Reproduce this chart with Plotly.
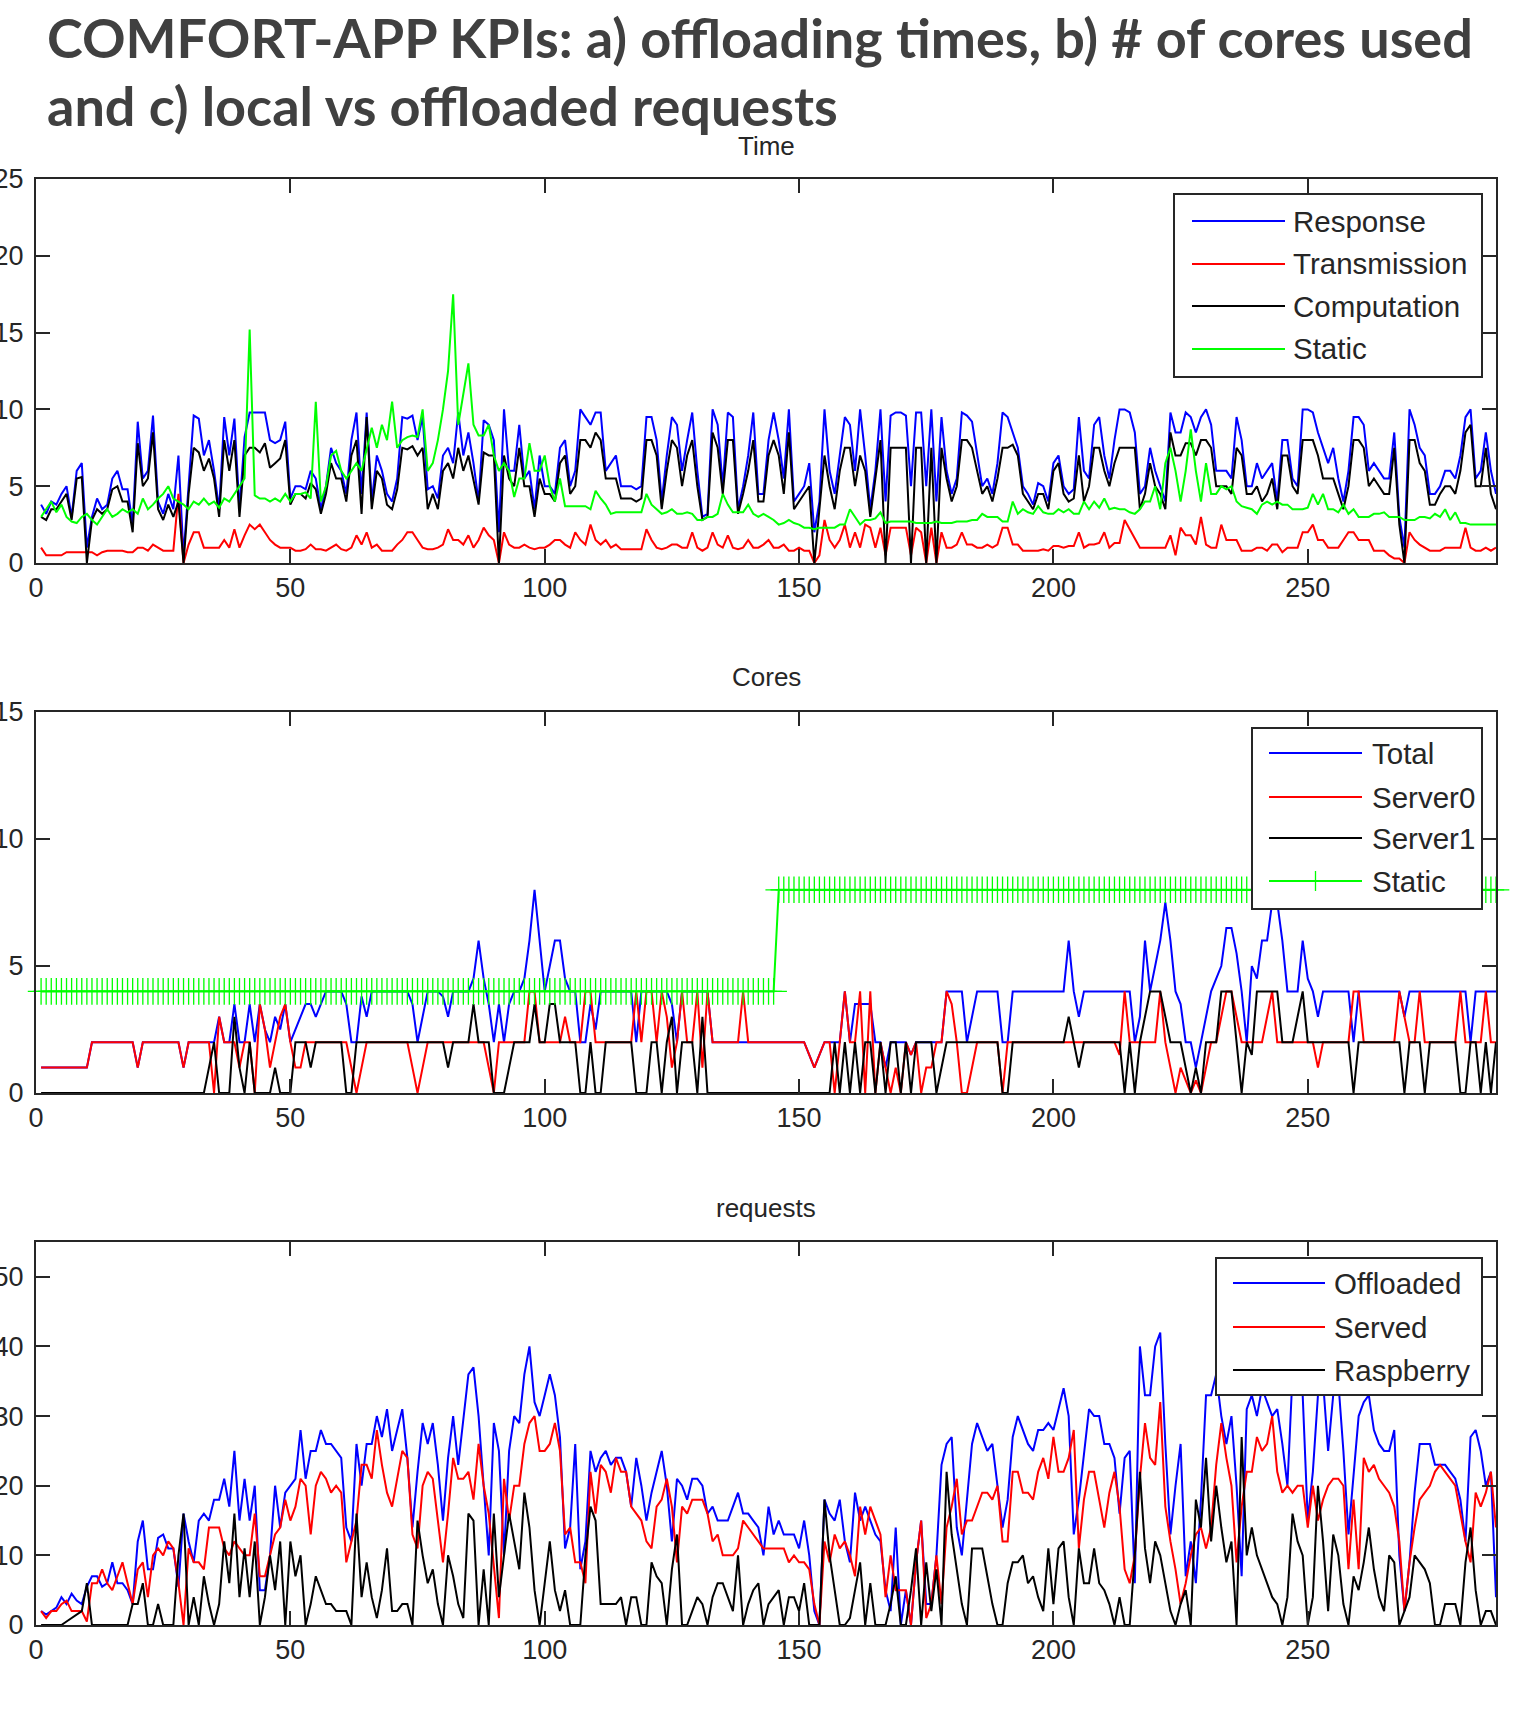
import plotly.graph_objects as go

# ---------------- data ----------------
X = list(range(1, 288))
X_TICKS = [0, 50, 100, 150, 200, 250]

TIME_NAMES = ["Response", "Transmission", "Computation", "Static"]
TIME_RESPONSE = [
    3.8, 3.2, 4.0, 3.8, 4.5, 5.0, 3.0, 6.0, 6.5, 1.0,
    3.0, 4.2, 3.5, 3.8, 5.5, 6.0, 4.8, 4.8, 2.5, 9.2,
    5.5, 6.0, 9.6, 4.0, 3.2, 4.5, 3.5, 7.0, 0.5, 5.0,
    9.6, 9.4, 7.0, 8.0, 6.0, 3.5, 9.5, 7.0, 9.4, 3.5,
    8.2, 9.8, 9.8, 9.8, 9.8, 8.0, 7.8, 8.0, 9.2, 4.2,
    5.0, 5.0, 4.8, 6.0, 5.5, 3.5, 5.0, 7.5, 6.5, 6.0,
    4.5, 8.0, 9.8, 4.5, 9.8, 4.0, 7.0, 6.0, 4.5, 4.0,
    5.5, 9.5, 9.4, 9.6, 8.0, 9.5, 4.8, 5.0, 4.2, 7.0,
    7.5, 6.5, 9.8, 7.0, 8.5, 6.5, 4.0, 9.3, 9.0, 8.0,
    2.0, 10.0, 6.0, 6.0, 9.0, 5.5, 6.0, 3.5, 7.0, 5.0,
    5.0, 4.5, 7.5, 8.0, 5.0, 6.0, 10.0, 9.5, 9.0, 9.8,
    9.8, 6.0, 6.5, 7.0, 5.0, 5.0, 5.0, 4.8, 5.0, 9.5,
    9.5, 8.0, 4.0, 7.0, 9.5, 9.0, 6.0, 8.0, 9.8, 6.0,
    3.0, 3.2, 10.0, 9.0, 5.0, 9.8, 9.5, 3.5, 5.0, 7.0,
    9.8, 4.5, 4.5, 8.0, 9.8, 8.0, 5.5, 10.0, 4.0, 4.5,
    5.0, 6.5, 2.0, 4.0, 10.0, 6.0, 4.5, 7.0, 9.5, 9.0,
    6.0, 10.0, 7.0, 3.5, 6.0, 10.0, 4.0, 9.6, 9.8, 9.8,
    9.6, 5.0, 9.8, 9.8, 5.0, 10.0, 4.0, 9.5, 6.0, 4.5,
    5.5, 9.8, 9.6, 9.2, 7.0, 5.0, 5.5, 4.5, 6.5, 9.8,
    9.5, 8.5, 7.5, 5.0, 4.5, 3.8, 5.2, 5.0, 4.0, 6.5,
    7.0, 5.0, 4.5, 4.8, 9.5, 6.0, 5.5, 9.0, 9.5, 7.0,
    5.5, 8.0, 10.0, 10.0, 9.8, 8.5, 4.5, 5.0, 7.5, 6.0,
    5.0, 4.0, 9.8, 8.5, 8.5, 9.8, 9.5, 8.5, 9.5, 10.0,
    9.0, 6.0, 6.0, 6.0, 5.5, 9.5, 8.0, 5.0, 5.0, 6.5,
    5.5, 6.0, 6.5, 4.0, 8.0, 8.0, 5.5, 5.0, 10.0, 10.0,
    9.8, 8.5, 7.5, 6.5, 7.5, 5.5, 4.0, 6.0, 9.5, 9.5,
    9.0, 6.0, 6.5, 6.0, 5.5, 5.5, 8.5, 3.0, 1.0, 10.0,
    9.0, 7.5, 7.0, 4.5, 4.5, 5.0, 6.0, 6.0, 5.5, 7.0,
    9.5, 10.0, 5.5, 6.0, 8.5, 6.0, 4.5,
]
TIME_TRANSMISSION = [
    1.0, 0.5, 0.5, 0.5, 0.5, 0.7, 0.7, 0.7, 0.7, 0.7,
    0.7, 0.5, 0.7, 0.8, 0.8, 0.8, 0.8, 0.7, 0.7, 1.0,
    1.0, 0.8, 1.2, 1.0, 0.8, 0.8, 0.8, 4.5, 0.0, 1.2,
    2.0, 2.0, 1.0, 1.0, 1.0, 1.0, 1.5, 1.0, 2.2, 1.0,
    1.8, 2.5, 2.2, 2.5, 2.0, 1.5, 1.2, 1.0, 1.0, 1.0,
    0.8, 0.8, 0.9, 1.2, 0.9, 0.9, 0.8, 1.0, 1.2, 0.9,
    0.8, 1.0, 1.8, 1.2, 2.0, 1.0, 1.2, 0.8, 0.8, 0.8,
    1.2, 1.5, 2.0, 2.0, 1.5, 1.0, 0.9, 0.9, 1.0, 1.2,
    2.2, 1.5, 1.5, 1.2, 1.8, 1.0, 1.5, 2.3, 1.8, 1.5,
    0.0, 2.0, 1.2, 1.0, 1.0, 1.2, 1.0, 0.9, 1.0, 1.0,
    1.2, 1.5, 1.5, 1.2, 1.0, 2.0, 1.5, 1.2, 2.5, 1.5,
    1.2, 1.5, 1.0, 1.2, 0.9, 0.9, 0.9, 0.9, 0.9, 2.2,
    1.5, 1.0, 0.9, 1.0, 1.2, 1.2, 1.0, 1.0, 2.0, 1.0,
    0.8, 1.0, 2.0, 1.2, 1.0, 1.8, 1.0, 0.9, 1.0, 1.5,
    1.0, 1.0, 1.2, 1.5, 1.0, 1.0, 1.2, 0.8, 0.8, 1.0,
    0.8, 0.8, 0.0, 0.5, 2.8, 1.5, 1.0, 1.5, 2.5, 1.0,
    2.0, 1.0, 2.5, 2.3, 1.0, 2.3, 0.5, 2.3, 2.3, 2.3,
    2.3, 0.5, 2.3, 2.0, 0.0, 2.3, 0.0, 2.0, 1.0, 1.0,
    1.2, 2.0, 1.2, 1.2, 1.0, 1.0, 1.2, 1.0, 1.2, 2.3,
    2.3, 1.2, 1.2, 0.8, 0.8, 0.8, 0.8, 0.9, 0.8, 1.1,
    1.1, 1.0, 1.1, 1.1, 2.0, 1.0, 1.2, 1.2, 1.3, 2.0,
    1.0, 1.3, 1.3, 2.8, 2.2, 1.5, 1.0, 1.0, 1.0, 1.0,
    1.0, 1.0, 1.8, 0.5, 2.3, 1.8, 1.8, 1.2, 3.0, 1.2,
    1.0, 1.0, 2.5, 1.5, 1.5, 1.5, 0.8, 0.8, 0.8, 1.0,
    1.0, 0.8, 1.2, 1.2, 0.7, 1.0, 1.0, 1.0, 2.0, 2.0,
    2.5, 1.5, 1.5, 1.0, 1.0, 1.0, 1.5, 2.0, 2.0, 1.5,
    1.5, 1.5, 0.8, 0.8, 0.8, 0.5, 0.3, 0.3, 0.0, 2.0,
    1.5, 1.2, 1.0, 0.8, 0.8, 0.8, 1.0, 1.0, 1.0, 1.0,
    2.3, 1.0, 0.8, 0.8, 1.0, 0.8, 1.0,
]
TIME_COMPUTATION = [
    3.0, 2.8, 3.5, 3.5, 4.0, 4.5, 2.8, 5.5, 5.6, 0.0,
    2.8, 3.5, 3.2, 3.5, 4.8, 5.0, 4.0, 4.0, 2.0, 7.8,
    5.0, 5.5, 8.5, 3.5, 2.8, 3.8, 3.0, 4.0, 0.0, 4.5,
    7.5, 7.2, 6.0, 6.8, 5.5, 3.0, 8.0, 6.0, 8.0, 3.0,
    7.0, 7.5, 7.5, 7.2, 7.8, 6.2, 6.5, 6.8, 8.0, 3.8,
    4.5, 4.5, 4.2, 5.2, 4.8, 3.2, 4.5, 6.5, 5.5, 5.5,
    4.0, 7.0, 8.0, 3.2, 9.5, 3.5, 6.0, 5.5, 3.8, 3.5,
    4.8, 7.5, 7.4, 7.6, 7.0, 7.5, 3.5, 4.5, 3.5, 6.0,
    6.5, 5.5, 7.5, 6.0, 7.0, 5.5, 3.8, 7.2, 7.0, 7.0,
    0.0, 7.0, 5.5, 5.0, 7.5, 5.0, 5.0, 3.0, 5.5, 4.5,
    4.5, 4.0, 6.5, 7.0, 4.5, 5.0, 8.0, 8.0, 7.5, 8.5,
    8.0, 5.5, 5.5, 5.5, 4.2, 4.2, 4.2, 4.0, 4.2, 8.0,
    8.0, 7.0, 3.5, 6.0, 8.0, 7.5, 5.0, 7.0, 8.0, 5.0,
    2.8, 3.0, 8.5, 7.5, 4.5, 8.0, 8.0, 3.2, 4.5, 6.0,
    8.0, 4.0, 4.0, 7.0, 8.0, 7.0, 4.5, 8.5, 3.5, 4.0,
    4.5, 5.0, 0.0, 3.5, 7.0, 5.0, 3.5, 6.0, 7.5, 7.5,
    5.0, 7.0, 6.0, 3.0, 5.5, 8.0, 0.0, 7.5, 7.5, 7.5,
    7.5, 0.0, 7.5, 7.5, 0.0, 7.5, 0.0, 7.5, 5.5, 4.0,
    5.0, 8.0, 8.0, 7.5, 6.0, 4.5, 5.0, 4.0, 5.5, 7.5,
    7.5, 7.7, 7.0, 4.5, 4.0, 3.5, 4.5, 4.5, 3.5, 6.0,
    6.5, 4.5, 4.0, 4.2, 7.0, 4.0, 5.0, 7.5, 7.5, 6.0,
    5.0, 6.5, 7.5, 7.5, 7.5, 7.5, 3.5, 4.5, 6.5, 5.0,
    4.5, 3.5, 8.5, 7.0, 7.0, 7.8, 7.8, 7.0, 8.0, 8.0,
    7.5, 5.0, 5.0, 5.0, 4.5, 7.5, 7.0, 4.5, 4.5, 5.0,
    4.0, 4.5, 5.5, 3.5, 7.0, 7.0, 5.0, 4.5, 8.0, 8.0,
    8.0, 7.0, 5.5, 5.5, 5.5, 4.5, 3.5, 5.0, 8.0, 8.0,
    7.5, 5.0, 5.5, 5.0, 4.5, 4.5, 7.5, 2.5, 0.0, 8.0,
    8.0, 6.5, 6.0, 3.8, 3.8, 4.5, 5.0, 5.0, 4.5, 6.0,
    8.5, 9.0, 5.0, 5.0, 7.5, 4.5, 3.5,
]
TIME_STATIC = [
    3.0, 3.5, 4.0, 3.3, 3.8, 3.0, 2.7, 2.6, 3.0, 3.2,
    2.8, 2.5, 3.0, 3.5, 3.0, 3.2, 3.5, 3.3, 3.5, 3.2,
    4.2, 3.5, 3.8, 4.2, 4.5, 5.0, 4.2, 4.0, 3.8, 3.5,
    4.0, 3.8, 4.2, 3.8, 4.0, 3.6, 4.2, 4.0, 4.5, 5.0,
    5.5, 15.2, 4.4, 4.2, 4.2, 4.0, 4.2, 4.0, 4.5, 4.0,
    4.5, 4.5, 4.6, 4.2, 10.5, 4.0, 5.0, 7.0, 7.3, 6.0,
    5.5, 6.0, 6.5, 6.0, 7.5, 8.8, 7.5, 9.0, 8.0, 10.5,
    7.5, 8.0, 8.2, 8.3, 8.2, 10.0, 6.0, 6.5, 8.0, 10.0,
    12.5, 17.5, 9.0, 11.0, 13.0, 9.0, 8.3, 8.3, 9.0, 7.0,
    6.0, 6.5, 6.0, 4.3, 5.5, 5.5, 7.8, 6.0, 6.0, 7.0,
    5.0, 4.0, 5.5, 3.7, 3.7, 3.7, 3.7, 3.7, 3.5, 4.7,
    4.2, 3.8, 3.2, 3.3, 3.3, 3.3, 3.3, 3.3, 3.3, 4.5,
    3.8, 3.5, 3.2, 3.3, 3.5, 3.2, 3.2, 3.3, 3.2, 2.8,
    2.8, 3.0, 3.0, 3.2, 4.5, 3.8, 3.3, 3.3, 3.3, 3.8,
    3.2, 3.0, 3.2, 3.0, 2.8, 2.5, 2.6, 2.8, 2.6, 2.5,
    2.3, 2.3, 2.2, 2.3, 2.3, 2.3, 2.3, 2.5, 2.5, 3.5,
    3.0, 2.5, 2.8, 2.8, 2.9, 3.3, 2.6, 2.7, 2.7, 2.7,
    2.7, 2.7, 2.6, 2.6, 2.6, 2.6, 2.7, 2.6, 2.6, 2.6,
    2.7, 2.7, 2.7, 2.8, 2.8, 3.2, 3.0, 3.0, 3.0, 2.7,
    2.7, 4.0, 3.2, 3.5, 3.3, 3.2, 3.7, 3.3, 3.2, 3.2,
    3.5, 3.3, 3.5, 3.2, 3.2, 4.0, 3.5, 4.0, 3.6, 4.2,
    3.5, 3.6, 3.5, 3.5, 3.3, 3.2, 3.5, 4.0, 4.0, 5.0,
    3.5, 6.5, 7.5, 6.0, 4.0, 6.0, 8.7, 6.0, 4.0, 6.5,
    4.5, 4.5, 5.0, 4.8, 5.0, 4.0, 3.7, 3.6, 3.5, 3.2,
    3.8, 4.0, 3.8, 4.0, 3.8, 3.8, 3.5, 3.5, 3.5, 3.6,
    4.5, 3.8, 4.5, 3.5, 3.5, 3.3, 3.8, 3.2, 3.5, 3.0,
    3.0, 3.0, 3.2, 3.2, 3.3, 3.0, 3.0, 3.0, 2.8, 2.8,
    2.8, 3.0, 3.0, 2.9, 3.2, 3.0, 3.5, 2.8, 3.3, 2.6,
    2.6, 2.5, 2.5, 2.5, 2.5, 2.5, 2.5,
]

CORES_NAMES = ["Total", "Server0", "Server1", "Static"]
CORES_TOTAL = [
    1, 1, 1, 1, 1, 1, 1, 1, 1, 1,
    2, 2, 2, 2, 2, 2, 2, 2, 2, 1,
    2, 2, 2, 2, 2, 2, 2, 2, 1, 2,
    2, 2, 2, 2, 2, 3, 2, 2, 3.5, 2,
    2, 3.5, 2, 3.5, 2.5, 2, 3, 2.5, 3.5, 2,
    2.5, 3, 3.5, 3.5, 3, 3.5, 4, 4, 4, 4,
    3.5, 2, 2, 3.8, 3, 4, 4, 4, 4, 4,
    4, 4, 4, 3.5, 2, 3, 4, 4, 4, 3.8,
    3, 4, 4, 4, 4, 4.5, 6, 4.5, 3.5, 2,
    3.5, 2, 3.5, 4, 4, 4.5, 6, 8, 6, 4,
    5, 6, 6, 4.5, 4, 4, 2, 2, 3.5, 2.5,
    4, 4, 4, 4, 4, 4, 4, 2, 4, 4,
    4, 4, 4, 4, 3.5, 2, 4, 4, 4, 4,
    4, 4, 2, 2, 2, 2, 2, 2, 2, 2,
    2, 2, 2, 2, 2, 2, 2, 2, 2, 2,
    2, 1.5, 1, 1.5, 2, 2, 2, 2, 4, 2,
    3.5, 3.5, 3.5, 3.5, 2, 2, 1, 2, 2, 2,
    2, 1.5, 2, 2, 2, 2, 2, 2, 4, 4,
    4, 4, 2, 3, 4, 4, 4, 4, 4, 2,
    2, 4, 4, 4, 4, 4, 4, 4, 4, 4,
    4, 4, 6, 4, 3, 4, 4, 4, 4, 4,
    4, 4, 4, 4, 4, 2, 3, 6, 4, 5,
    6, 7.5, 6, 4, 3.5, 2, 2, 1, 2, 3,
    4, 4.5, 5, 6.5, 6.5, 5.5, 4, 2, 5, 4.5,
    6, 6, 7.5, 7.5, 6, 4, 4, 4, 6, 4.5,
    4, 3, 4, 4, 4, 4, 4, 4, 2, 4,
    4, 4, 4, 4, 4, 4, 4, 4, 3, 4,
    4, 4, 4, 4, 4, 4, 4, 4, 4, 4,
    4, 2, 4, 4, 4, 4, 4,
]
CORES_SERVER0 = [
    1, 1, 1, 1, 1, 1, 1, 1, 1, 1,
    2, 2, 2, 2, 2, 2, 2, 2, 2, 1,
    2, 2, 2, 2, 2, 2, 2, 2, 1, 2,
    2, 2, 2, 2, 0, 3, 2, 2, 2, 1,
    2, 2, 0, 3.5, 2.5, 1, 2, 3, 3.5, 2,
    1, 1, 2, 2, 2, 2, 2, 2, 2, 2,
    2, 1, 0, 1, 2, 2, 2, 2, 2, 2,
    2, 2, 2, 1, 0, 1, 2, 2, 2, 2,
    2, 2, 2, 2, 2, 2, 2, 2, 1, 0,
    2, 2, 2, 2, 2, 2, 4, 4, 2, 2,
    2, 2, 2, 3, 2, 2, 2, 4, 4, 2,
    2, 2, 2, 2, 2, 2, 2, 4, 2, 4,
    4, 2, 4, 3, 1, 2, 4, 2, 2, 4,
    1, 4, 2, 2, 2, 2, 2, 2, 4, 2,
    2, 2, 2, 2, 2, 2, 2, 2, 2, 2,
    2, 1.5, 1, 1.5, 2, 2, 0, 2, 4, 2,
    2, 4, 0, 4, 0, 2, 1, 0, 1, 0,
    2, 1.5, 2, 0, 1, 1, 2, 2, 4, 3.5,
    2, 0, 0, 1, 2, 2, 2, 2, 2, 0,
    2, 2, 2, 2, 2, 2, 2, 2, 2, 2,
    2, 2, 2, 2, 2, 2, 2, 2, 2, 2,
    2, 2, 1.5, 4, 2, 2, 2, 2, 2, 2,
    4, 2, 1, 0, 1, 0.5, 0, 0.5, 0, 1,
    2, 2, 3, 4, 4, 3, 2, 2, 2, 2,
    2, 3, 4, 2, 2, 2, 2, 2, 2, 2,
    2, 1, 2, 2, 2, 2, 2, 2, 4, 4,
    2, 2, 2, 2, 2, 2, 2, 4, 3, 2,
    2, 4, 2, 2, 2, 2, 2, 2, 2, 4,
    2, 2, 2, 2, 4, 2, 2,
]
CORES_SERVER1 = [
    0, 0, 0, 0, 0, 0, 0, 0, 0, 0,
    0, 0, 0, 0, 0, 0, 0, 0, 0, 0,
    0, 0, 0, 0, 0, 0, 0, 0, 0, 0,
    0, 0, 0, 1, 2, 0, 0, 0, 3, 1,
    0, 2, 0, 0, 0, 0, 1, 0, 0, 0,
    2, 2, 2, 1, 2, 2, 2, 2, 2, 2,
    0, 0, 2, 2, 2, 2, 2, 2, 2, 2,
    2, 2, 2, 2, 2, 2, 2, 2, 2, 2,
    1, 2, 2, 2, 2, 3.5, 2, 2, 2, 0,
    0, 0, 1, 2, 2, 2, 2, 3.5, 2, 2,
    3.5, 3.5, 2, 2, 2, 2, 0, 0, 2, 0,
    0, 2, 2, 2, 2, 2, 2, 0, 0, 0,
    2, 2, 0, 2, 3, 0, 2, 2, 2, 0,
    3, 0, 0, 0, 0, 0, 0, 0, 0, 0,
    0, 0, 0, 0, 0, 0, 0, 0, 0, 0,
    0, 0, 0, 0, 0, 0, 2, 0, 2, 0,
    2, 0, 2, 2, 0, 2, 0, 2, 2, 0,
    2, 0, 2, 2, 2, 2, 0, 1, 2, 2,
    2, 2, 2, 2, 2, 2, 2, 2, 2, 0,
    0, 2, 2, 2, 2, 2, 2, 2, 2, 2,
    2, 2, 3, 2, 1, 2, 2, 2, 2, 2,
    2, 2, 2, 0, 2, 0, 2, 3, 4, 4,
    4, 3, 2, 2, 2, 1, 0, 1, 0, 2,
    2, 2, 4, 4, 4, 2, 0, 2, 1.5, 4,
    4, 4, 4, 4, 2, 2, 2, 3, 4, 2,
    2, 2, 2, 2, 2, 2, 2, 2, 0, 2,
    2, 2, 2, 2, 2, 2, 2, 2, 0, 2,
    2, 2, 0, 2, 2, 2, 2, 2, 2, 0,
    0, 2, 2, 0, 2, 0, 2,
]
CORES_STATIC = [
    4, 4, 4, 4, 4, 4, 4, 4, 4, 4, 4, 4, 4, 4, 4, 4, 4, 4, 4, 4,
    4, 4, 4, 4, 4, 4, 4, 4, 4, 4, 4, 4, 4, 4, 4, 4, 4, 4, 4, 4,
    4, 4, 4, 4, 4, 4, 4, 4, 4, 4, 4, 4, 4, 4, 4, 4, 4, 4, 4, 4,
    4, 4, 4, 4, 4, 4, 4, 4, 4, 4, 4, 4, 4, 4, 4, 4, 4, 4, 4, 4,
    4, 4, 4, 4, 4, 4, 4, 4, 4, 4, 4, 4, 4, 4, 4, 4, 4, 4, 4, 4,
    4, 4, 4, 4, 4, 4, 4, 4, 4, 4, 4, 4, 4, 4, 4, 4, 4, 4, 4, 4,
    4, 4, 4, 4, 4, 4, 4, 4, 4, 4, 4, 4, 4, 4, 4, 4, 4, 4, 4, 4,
    4, 4, 4, 4, 4,
    8, 8, 8, 8, 8, 8, 8, 8, 8, 8, 8, 8, 8, 8, 8, 8, 8, 8, 8, 8,
    8, 8, 8, 8, 8, 8, 8, 8, 8, 8, 8, 8, 8, 8, 8, 8, 8, 8, 8, 8,
    8, 8, 8, 8, 8, 8, 8, 8, 8, 8, 8, 8, 8, 8, 8, 8, 8, 8, 8, 8,
    8, 8, 8, 8, 8, 8, 8, 8, 8, 8, 8, 8, 8, 8, 8, 8, 8, 8, 8, 8,
    8, 8, 8, 8, 8, 8, 8, 8, 8, 8, 8, 8, 8, 8, 8, 8, 8, 8, 8, 8,
    8, 8, 8, 8, 8, 8, 8, 8, 8, 8, 8, 8, 8, 8, 8, 8, 8, 8, 8, 8,
    8, 8, 8, 8, 8, 8, 8, 8, 8, 8, 8, 8, 8, 8, 8, 8, 8, 8, 8, 8,
    8, 8,
]

REQ_NAMES = ["Offloaded", "Served", "Raspberry"]
REQ_OFFLOADED = [
    2, 1.5, 2, 2.5, 4, 3, 4.5, 3.5, 3, 5.5,
    7, 7, 5.5, 6, 9, 6, 6, 5, 3, 12,
    15, 8, 8, 12.5, 13, 11, 11, 5.5, 16, 12,
    9, 15, 16, 15, 18, 18, 21, 17, 25, 15,
    21, 15, 20, 5, 5, 10, 20, 14, 19, 20,
    21, 28, 21, 25, 25, 28, 26, 26, 25, 24,
    14, 12, 26, 20, 26, 26, 30, 27, 31, 25,
    28, 31, 24, 14, 22, 29, 26, 29, 23, 15,
    24, 30, 23, 30, 36, 37, 30, 20, 10, 29,
    25, 10, 25, 30, 29, 36, 40, 32, 30, 33,
    36, 33, 27, 11, 14, 26, 8, 12, 25, 22,
    24, 25, 23, 24, 24, 22, 17, 24, 20, 15,
    19, 22, 25, 20, 12, 21, 20, 18, 21, 21,
    20, 16, 17, 15, 15, 15, 17, 19, 16, 16,
    15, 14, 10, 17, 13, 15, 13, 13, 13, 11,
    15, 10, 2, 0, 18, 16, 15, 18, 12, 9,
    19, 15, 17, 15, 13, 12, 5, 2, 14, 0,
    5, 0, 9, 15, 3, 3, 10, 23, 26, 27,
    14, 10, 18, 26, 29, 27, 25, 26, 20, 14,
    18, 27, 30, 28, 26, 25, 28, 28, 29, 28,
    31, 34, 30, 13, 18, 25, 31, 30, 30, 26,
    26, 24, 16, 24, 25, 6, 40, 33, 33, 40,
    42, 26, 13, 20, 26, 7, 12, 6, 18, 33,
    33, 36, 30, 26, 30, 20, 7, 31, 33, 30,
    34, 32, 30, 31, 26, 20, 36, 34, 33, 15,
    22, 33, 35, 25, 33, 35, 25, 13, 22, 30,
    32, 33, 28, 26, 25, 25, 28, 10, 2, 9,
    19, 26, 26, 26, 23, 23, 23, 22, 21, 18,
    12, 27, 28, 25, 20, 22, 4,
]
REQ_SERVED = [
    2, 1, 2, 2, 3, 3.5, 2, 2, 2, 0.5,
    6, 6, 8, 6, 5, 7, 9, 6, 3, 8,
    9, 4, 10, 11, 10, 12, 11, 6, 0, 11,
    9, 9, 8, 14, 14, 14, 11, 10, 12, 11,
    10, 10, 16, 7, 7, 10, 13, 14, 18, 15,
    17, 21, 20, 13, 20, 22, 21, 19, 20, 19,
    9, 12, 15, 23, 23, 21, 28, 23, 19, 17,
    21, 25, 24, 13, 11, 20, 22, 21, 15, 9,
    16, 24, 21, 21, 22, 18, 26, 20, 16, 8,
    1, 21, 15, 20, 20, 26, 29, 30, 25, 25,
    26, 29, 25, 13, 14, 9, 9, 6, 22, 16,
    23, 22, 19, 24, 22, 22, 17, 16, 15, 12,
    11, 17, 18, 21, 17, 9, 17, 16, 18, 18,
    18, 16, 12, 13, 10, 10, 10, 11, 15, 14,
    13, 12, 11, 11, 11, 11, 11, 9, 10, 9,
    9, 8, 3, 0, 12, 9, 13, 11, 12, 10,
    7, 17, 13, 17, 15, 13, 4, 10, 5, 5,
    5, 0, 9, 15, 1, 3, 10, 3, 14, 17,
    21, 13, 15, 15, 17, 19, 19, 18, 20, 12,
    12, 22, 22, 19, 19, 18, 22, 24, 21, 27,
    22, 22, 24, 28, 11, 18, 22, 22, 18, 14,
    19, 22, 17, 8, 6, 10, 21, 29, 24, 23,
    32, 17, 12, 8, 3, 6, 10, 13, 14, 11,
    14, 23, 29, 24, 20, 9, 17, 22, 22, 27,
    25, 26, 30, 22, 19, 20, 19, 20, 20, 14,
    20, 15, 18, 20, 21, 21, 20, 8, 18, 8,
    24, 22, 23, 21, 20, 19, 17, 12, 2, 9,
    14, 18, 19, 20, 22, 23, 22, 21, 20, 16,
    12, 9, 19, 17, 19, 22, 14,
]
REQ_RASPBERRY = [
    0, 0, 0, 0, 0, 0.5, 1, 1.5, 2, 6,
    0, 0, 0, 0, 0, 0, 0, 0, 3, 3,
    6, 0, 0, 3, 0, 0, 0, 10, 16, 0,
    4, 0, 7, 3, 0, 3, 12, 6, 16, 4,
    11, 4, 12, 0, 4, 10, 5, 12, 0, 12,
    7, 10, 0, 3, 7, 5, 3, 3, 2, 2,
    2, 0, 16, 4, 9, 4, 1, 5, 11, 2,
    2, 3, 3, 0, 15, 10, 6, 8, 3, 0,
    10, 7, 3, 1, 16, 15, 0, 8, 0, 16,
    4, 10, 16, 12, 8, 19, 14, 5, 0, 6,
    12, 5, 2, 5, 0, 0, 0, 10, 17, 15,
    3, 3, 3, 3, 4, 0, 4, 4, 0, 0,
    9, 7, 6, 0, 8, 13, 0, 0, 2, 4,
    3, 0, 4, 6, 6, 4, 2, 10, 0, 3,
    5, 6, 0, 3, 4, 5, 0, 4, 4, 2,
    6, 0, 0, 0, 18, 10, 5, 0, 0, 1,
    5, 9, 0, 6, 0, 0, 0, 3, 7, 0,
    0, 5, 11, 0, 9, 2, 8, 0, 22, 13,
    8, 3, 0, 11, 11, 11, 7, 3, 0, 0,
    6, 9, 9, 10, 6, 7, 4, 2, 11, 3,
    11, 12, 4, 0, 11, 6, 6, 11, 6, 5,
    3, 0, 4, 0, 0, 10, 22, 11, 6, 12,
    10, 6, 2, 0, 3, 5, 0, 18, 14, 24,
    12, 20, 14, 9, 12, 0, 27, 10, 14, 10,
    8, 6, 4, 3, 0, 4, 16, 12, 10, 0,
    4, 20, 12, 2, 13, 10, 3, 0, 7, 5,
    9, 14, 8, 4, 2, 10, 9, 0, 2, 4,
    10, 9, 8, 6, 0, 0, 3, 3, 3, 0,
    9, 14, 5, 0, 2, 2, 0,
]

for _nm, _arr in [("TIME_RESPONSE", TIME_RESPONSE), ("TIME_TRANSMISSION", TIME_TRANSMISSION),
                  ("TIME_COMPUTATION", TIME_COMPUTATION), ("TIME_STATIC", TIME_STATIC),
                  ("CORES_TOTAL", CORES_TOTAL), ("CORES_SERVER0", CORES_SERVER0),
                  ("CORES_SERVER1", CORES_SERVER1), ("CORES_STATIC", CORES_STATIC),
                  ("REQ_OFFLOADED", REQ_OFFLOADED), ("REQ_SERVED", REQ_SERVED),
                  ("REQ_RASPBERRY", REQ_RASPBERRY)]:
    assert len(_arr) == len(X), f"{_nm} has {len(_arr)} values"

# ---------------- layout helpers ----------------
W, H = 1527, 1709
ML, MR = 36, 31
PW = W - ML - MR


def pxx(xp):
    return (xp - ML) / PW


def pxy(yp):
    return 1 - yp / H


BLUE, RED, BLACK, GREEN = "#0000FF", "#FF0000", "#000000", "#00FF00"
AX = "#262626"
SANS = "Liberation Sans, Arial, sans-serif"
LW = 2.0

fig = go.Figure()

panels = [
    dict(sfx="", top=179, bot=563, yr=[0, 25], yt=[0, 5, 10, 15, 20, 25], title="Time", ty=146,
         series=[(TIME_RESPONSE, BLUE), (TIME_TRANSMISSION, RED), (TIME_COMPUTATION, BLACK), (TIME_STATIC, GREEN)],
         names=TIME_NAMES),
    dict(sfx="2", top=712, bot=1093, yr=[0, 15], yt=[0, 5, 10, 15], title="Cores", ty=677,
         series=[(CORES_TOTAL, BLUE), (CORES_SERVER0, RED), (CORES_SERVER1, BLACK), (CORES_STATIC, GREEN)],
         names=CORES_NAMES),
    dict(sfx="3", top=1242, bot=1625, yr=[0, 55], yt=[0, 10, 20, 30, 40, 50], title="requests", ty=1208,
         series=[(REQ_OFFLOADED, BLUE), (REQ_SERVED, RED), (REQ_RASPBERRY, BLACK)],
         names=REQ_NAMES),
]

axis_common = dict(
    showline=True, linewidth=2, linecolor=AX, mirror="ticks",
    ticks="inside", ticklen=14, tickwidth=2, tickcolor=AX,
    showgrid=False, zeroline=False,
    tickfont=dict(family=SANS, size=27, color=AX),
)

layout_axes = {}
annotations = []
shapes = []

for p in panels:
    xa = "x" + p["sfx"]
    ya = "y" + p["sfx"]
    for i, (vals, col) in enumerate(p["series"]):
        is_static_cores = (p["sfx"] == "2" and i == 3)
        if is_static_cores:
            fig.add_trace(go.Scatter(
                x=X, y=vals, mode="lines+markers", name=p["names"][i],
                line=dict(color=col, width=LW),
                marker=dict(symbol="cross-thin", size=19, color=col, line=dict(color=col, width=1.3)),
                cliponaxis=False, xaxis=xa, yaxis=ya, showlegend=False))
        else:
            fig.add_trace(go.Scatter(
                x=X, y=vals, mode="lines", name=p["names"][i],
                line=dict(color=col, width=LW),
                xaxis=xa, yaxis=ya, showlegend=False))
    layout_axes["xaxis" + p["sfx"]] = dict(
        axis_common, domain=[0, 1], range=[0, 287], tickvals=X_TICKS, anchor=ya,
        ticklabelstandoff=0)
    layout_axes["yaxis" + p["sfx"]] = dict(
        axis_common, domain=[pxy(p["bot"]), pxy(p["top"])], range=p["yr"], tickvals=p["yt"], anchor=xa,
        ticklabelstandoff=5)
    annotations.append(dict(
        text=p["title"], xref="paper", yref="paper", x=pxx(766), y=pxy(p["ty"]),
        xanchor="center", yanchor="middle", showarrow=False,
        font=dict(family=SANS, size=26, color=AX)))

# ---------------- custom legends ----------------
legends = [
    dict(box=(1174, 194, 1482, 377), sx=(1192, 1285), tx=1291, rows=[221, 264, 306, 349],
         names=TIME_NAMES, colors=[BLUE, RED, BLACK, GREEN], plus=None),
    dict(box=(1252, 728, 1482, 909), sx=(1269, 1362), tx=1370, rows=[753, 797, 838, 881],
         names=CORES_NAMES, colors=[BLUE, RED, BLACK, GREEN], plus=3),
    dict(box=(1216, 1258, 1482, 1395), sx=(1233, 1325), tx=1332, rows=[1283, 1327, 1370],
         names=REQ_NAMES, colors=[BLUE, RED, BLACK], plus=None),
]
for lg in legends:
    x0, y0, x1, y1 = lg["box"]
    shapes.append(dict(type="rect", xref="paper", yref="paper",
                       x0=pxx(x0), x1=pxx(x1), y0=pxy(y1), y1=pxy(y0),
                       line=dict(color=AX, width=2), fillcolor="white", layer="above"))
    for j, (nm, col, ry) in enumerate(zip(lg["names"], lg["colors"], lg["rows"])):
        shapes.append(dict(type="line", xref="paper", yref="paper",
                           x0=pxx(lg["sx"][0]), x1=pxx(lg["sx"][1]), y0=pxy(ry), y1=pxy(ry),
                           line=dict(color=col, width=LW), layer="above"))
        if lg["plus"] == j:
            cx = (lg["sx"][0] + lg["sx"][1]) / 2
            shapes.append(dict(type="line", xref="paper", yref="paper",
                               x0=pxx(cx), x1=pxx(cx), y0=pxy(ry - 10), y1=pxy(ry + 10),
                               line=dict(color=col, width=1.3), layer="above"))
        annotations.append(dict(
            text=nm, xref="paper", yref="paper", x=pxx(lg["tx"]), y=pxy(ry),
            xanchor="left", yanchor="middle", showarrow=False,
            font=dict(family=SANS, size=29.5, color=AX)))

# ---------------- main title ----------------
TITLE_LINES = ["COMFORT-APP KPIs: a) offloading times, b) # of cores used",
               "and c) local vs offloaded requests"]
for line, yc in zip(TITLE_LINES, [38, 105]):
    annotations.append(dict(
        text="<b>" + line + "</b>", xref="paper", yref="paper", x=pxx(45), y=pxy(yc),
        xanchor="left", yanchor="middle", showarrow=False,
        font=dict(family="Lato, Open Sans, sans-serif", size=54, color="#404040")))

fig.update_layout(
    width=W, height=H,
    margin=dict(l=ML, r=MR, t=0, b=0, autoexpand=False),
    paper_bgcolor="white", plot_bgcolor="white",
    showlegend=False,
    annotations=annotations, shapes=shapes,
    **layout_axes,
)

fig.write_html(
    "out.html",
    config={"displayModeBar": False},
    post_script="document.body.style.margin='0';document.body.style.padding='0';",
)
